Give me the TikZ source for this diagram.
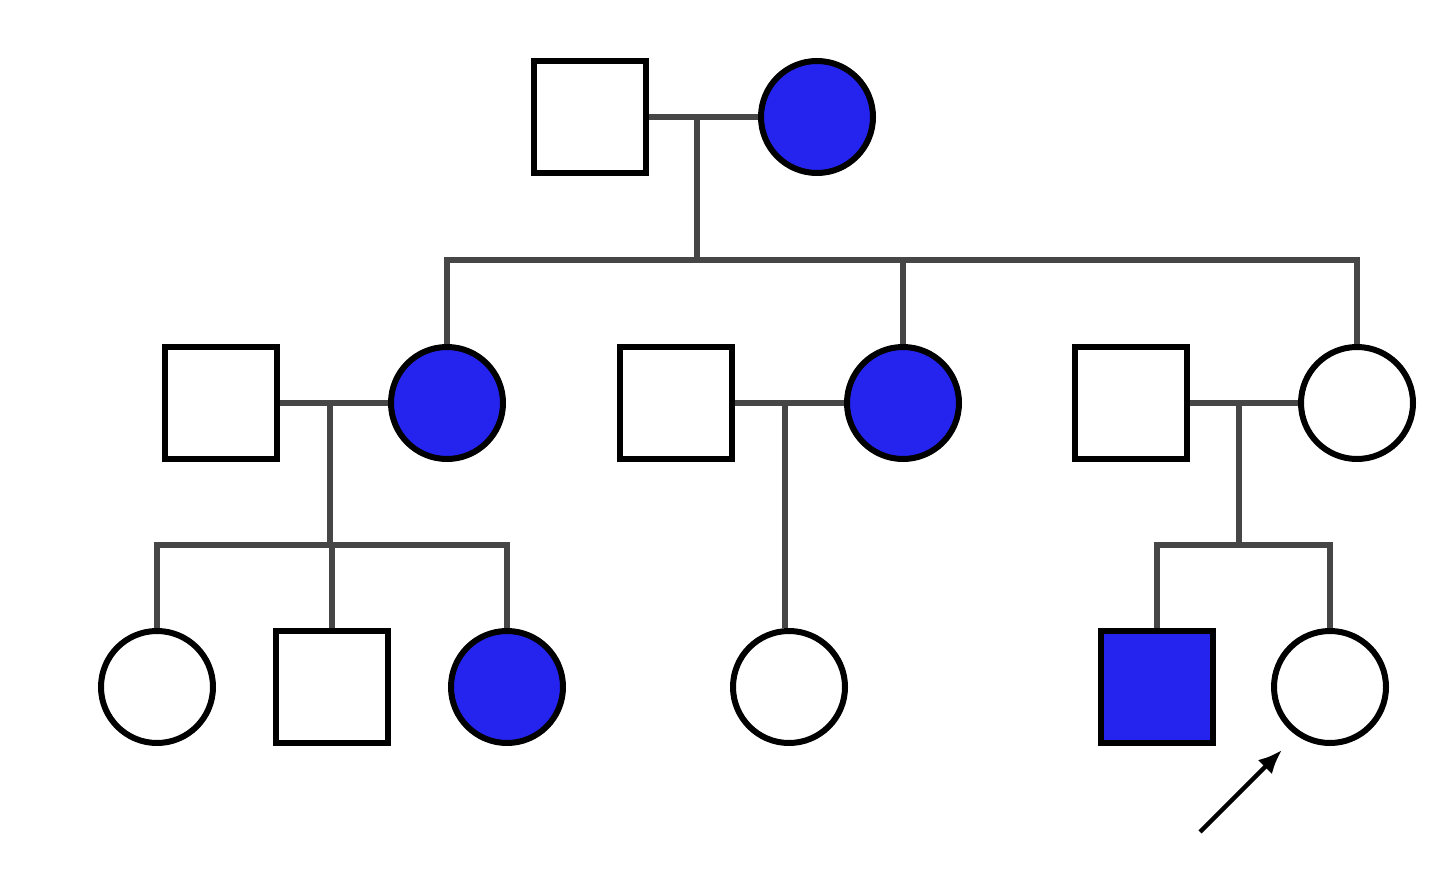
\documentclass[tikz,border=0pt]{standalone}
\usetikzlibrary{arrows.meta}
\begin{document}
\begin{tikzpicture}[x=1pt,y=-1pt]
\definecolor{aff}{RGB}{36,36,238}
\definecolor{ln}{RGB}{70,70,70}
\tikzset{
 male/.style={draw=black,line width=6pt,minimum size=112pt,inner sep=0pt,fill=white},
 female/.style={circle,draw=black,line width=6pt,minimum size=112pt,inner sep=0pt,fill=white},
 affected/.style={fill=aff},
 link/.style={draw=ln,line width=6pt}
}
\useasboundingbox (0,0) rectangle (1440,888);
% generation 1
\node[male] (g1m) at (590,117) {};
\node[female,affected] (g1f) at (817,117) {};
% generation 2
\node[male] (a1) at (221,403) {};
\node[female,affected] (a2) at (447,403) {};
\node[male] (b1) at (676,403) {};
\node[female,affected] (b2) at (903,403) {};
\node[male] (c1) at (1131,403) {};
\node[female] (c2) at (1357,403) {};
% generation 3
\node[female] (d1) at (157,687) {};
\node[male] (d2) at (332,687) {};
\node[female,affected] (d3) at (507,687) {};
\node[female] (e1) at (789,687) {};
\node[male,affected] (f1) at (1157,687) {};
\node[female] (f2) at (1330,687) {};
% connectors
\coordinate (m1) at (697,117);
\coordinate (s1) at (697,260);
\draw[link] (g1m.east) -- (g1f.west);
\draw[link] (m1) -- (s1);
\draw[link] (a2.north) -- (a2.north |- s1) -- (c2.north |- s1) -- (c2.north);
\draw[link] (b2.north) -- (b2.north |- s1);
\coordinate (m2) at (330,403);
\coordinate (s2) at (330,545);
\draw[link] (a1.east) -- (a2.west);
\draw[link] (m2) -- (s2);
\draw[link] (d1.north) -- (d1.north |- s2) -- (d3.north |- s2) -- (d3.north);
\draw[link] (d2.north) -- (d2.north |- s2);
\coordinate (m3) at (785,403);
\draw[link] (b1.east) -- (b2.west);
\draw[link] (m3) -- (m3 |- e1.north);
\coordinate (m4) at (1239,403);
\coordinate (s4) at (1239,545);
\draw[link] (c1.east) -- (c2.west);
\draw[link] (m4) -- (s4);
\draw[link] (f1.north) -- (f1.north |- s4) -- (f2.north |- s4) -- (f2.north);
% proband arrow
\coordinate (p0) at (1200,832);
\coordinate (p1) at (1282,750);
\draw[line width=4.5pt,-{Latex[length=24pt,width=20pt]}] (p0) -- (p1);
\end{tikzpicture}
\end{document}
